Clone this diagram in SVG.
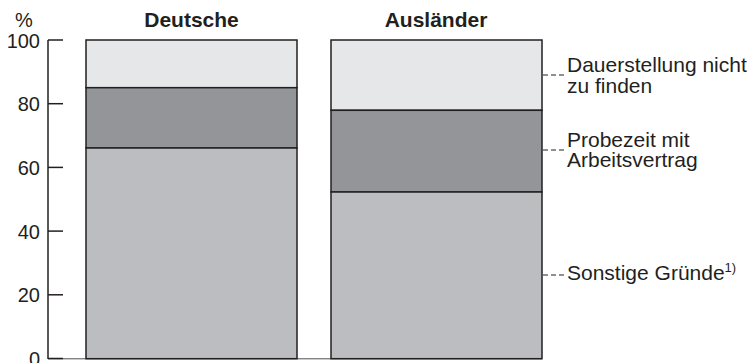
<svg xmlns="http://www.w3.org/2000/svg" width="752" height="363" viewBox="0 0 752 363">
<style>
  text { font-family: "Liberation Sans", Arial, sans-serif; fill: #231f20; }
  .tick { font-size: 20px; text-anchor: end; }
  .title { font-size: 21px; font-weight: bold; text-anchor: middle; }
  .lbl { font-size: 21px; }
  .axis { stroke: #231f20; stroke-width: 1.5; fill: none; }
  .seg { stroke: #231f20; stroke-width: 1.5; }
  .light { fill: #e6e7e8; }
  .dark { fill: #939598; }
  .mid { fill: #bcbdc0; }
  .lead { stroke: #231f20; stroke-width: 1; stroke-dasharray: 5 3; fill: none; }
</style>
<rect width="752" height="363" fill="#ffffff"/>
<g id="axis">
  <line class="axis" x1="48" y1="40" x2="48" y2="359"/>
  <line class="axis" x1="48" y1="40" x2="63" y2="40"/>
  <line class="axis" x1="48" y1="103.7" x2="63" y2="103.7"/>
  <line class="axis" x1="48" y1="167.4" x2="63" y2="167.4"/>
  <line class="axis" x1="48" y1="231.1" x2="63" y2="231.1"/>
  <line class="axis" x1="48" y1="294.8" x2="63" y2="294.8"/>
  <line class="axis" x1="48" y1="358.5" x2="63" y2="358.5"/>
  <line x1="48" y1="358.8" x2="542" y2="358.8" stroke="#231f20" stroke-width="0.8"/>
  <text x="15" y="27" style="font-size:20px">%</text>
  <text class="tick" x="40" y="47.5">100</text>
  <text class="tick" x="40" y="111.2">80</text>
  <text class="tick" x="40" y="174.9">60</text>
  <text class="tick" x="40" y="238.6">40</text>
  <text class="tick" x="40" y="302.3">20</text>
  <text class="tick" x="40" y="366">0</text>
</g>
<g id="bar-deutsche">
  <text class="title" x="191.5" y="27">Deutsche</text>
  <rect class="seg light" x="86" y="40" width="211" height="47.7"/>
  <rect class="seg dark" x="86" y="87.7" width="211" height="60.3"/>
  <rect class="seg mid" x="86" y="148" width="211" height="210.7"/>
</g>
<g id="bar-auslaender">
  <text class="title" x="436" y="27">Ausländer</text>
  <rect class="seg light" x="331" y="40" width="211" height="70.3"/>
  <rect class="seg dark" x="331" y="110.3" width="211" height="81.7"/>
  <rect class="seg mid" x="331" y="192" width="211" height="166.7"/>
</g>
<g id="connectors">
  <line class="lead" x1="543" y1="75" x2="566" y2="75"/>
  <line class="lead" x1="543" y1="150" x2="566" y2="150"/>
  <line class="lead" x1="543" y1="275" x2="566" y2="275"/>
</g>
<g id="label-dauerstellung">
  <text class="lbl" x="567" y="72">Dauerstellung nicht</text>
  <text class="lbl" x="567" y="93">zu finden</text>
</g>
<g id="label-probezeit">
  <text class="lbl" x="567" y="146.5">Probezeit mit</text>
  <text class="lbl" x="567" y="167">Arbeitsvertrag</text>
</g>
<g id="label-sonstige">
  <text class="lbl" x="567" y="280">Sonstige Gründe<tspan dy="-8" style="font-size:13px">1)</tspan></text>
</g>
</svg>
